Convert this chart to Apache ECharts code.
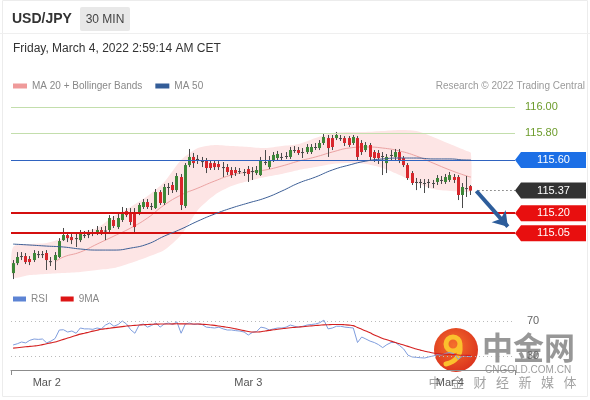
<!DOCTYPE html>
<html><head><meta charset="utf-8">
<script src="https://cdn.jsdelivr.net/npm/echarts@6/dist/echarts.min.js"></script>
<style>html,body{margin:0;padding:0;background:#fff}#c{width:590px;height:400px}</style>
</head><body><div id="c"></div>
<script>
// ---------- data ----------
const pairName = 'USD/JPY';
const timeframe = '30 MIN';
const stamp = 'Friday, March 4, 2022 2:59:14 AM CET';
const credit = 'Research \u00a9 2022 Trading Central';
const dayLabels = ['Mar 2', 'Mar 3', 'Mar 4'];
const dayIdx = [8, 56, 104];
const slotCount = 120;           // 110 candles + empty room on the right
// candles: [open, close, low, high]
const candles = [
[114.750,114.825,114.705,114.848],[114.825,114.871,114.810,114.908],[114.871,114.878,114.848,114.908],[114.878,114.833,114.818,114.901],[114.856,114.833,114.810,114.878],
[114.848,114.901,114.833,114.923],[114.893,114.886,114.863,114.916],[114.886,114.893,114.863,114.916],[114.901,114.848,114.773,114.923],[114.840,114.833,114.803,114.871],
[114.848,114.886,114.773,114.908],[114.871,114.991,114.863,115.013],[114.998,115.036,114.991,115.089],[115.036,115.013,114.983,115.059],[115.021,114.998,114.968,115.044],
[115.013,115.010,114.946,115.044],[114.998,115.051,114.983,115.074],[115.036,115.032,115.013,115.066],[115.036,115.044,115.013,115.074],[115.051,115.059,115.028,115.081],
[115.051,115.074,115.036,115.104],[115.074,115.059,115.036,115.096],[115.066,115.070,114.998,115.104],[115.074,115.164,115.059,115.186],[115.149,115.104,115.089,115.179],
[115.096,115.164,115.081,115.194],[115.149,115.209,115.134,115.247],[115.216,115.186,115.171,115.239],[115.201,115.134,115.111,115.239],[115.194,115.096,115.059,115.239],
[115.201,115.262,115.186,115.277],[115.247,115.284,115.232,115.307],[115.284,115.247,115.232,115.307],[115.247,115.254,115.224,115.277],[115.239,115.359,115.232,115.382],
[115.359,115.277,115.262,115.374],[115.277,115.397,115.262,115.420],[115.397,115.393,115.337,115.427],[115.412,115.374,115.352,115.435],[115.374,115.480,115.359,115.502],
[115.472,115.262,115.224,115.495],[115.254,115.562,115.239,115.577],[115.562,115.623,115.547,115.683],[115.623,115.577,115.540,115.653],[115.608,115.600,115.570,115.638],
[115.592,115.589,115.547,115.623],[115.600,115.540,115.502,115.615],[115.577,115.540,115.525,115.600],[115.577,115.547,115.525,115.600],[115.570,115.547,115.525,115.592],
[115.547,115.544,115.472,115.585],[115.547,115.510,115.487,115.570],[115.525,115.487,115.465,115.547],[115.525,115.502,115.480,115.547],[115.517,115.514,115.495,115.540],
[115.510,115.506,115.480,115.532],[115.532,115.495,115.435,115.555],[115.517,115.514,115.450,115.547],[115.502,115.525,115.487,115.555],[115.487,115.600,115.480,115.623],
[115.585,115.581,115.562,115.675],[115.547,115.600,115.532,115.630],[115.600,115.638,115.585,115.660],[115.615,115.645,115.600,115.668],[115.623,115.619,115.600,115.653],
[115.630,115.626,115.608,115.660],[115.623,115.675,115.608,115.698],[115.675,115.671,115.653,115.705],[115.675,115.653,115.638,115.698],[115.660,115.656,115.615,115.690],
[115.660,115.698,115.645,115.720],[115.660,115.698,115.645,115.720],[115.698,115.694,115.675,115.728],[115.690,115.728,115.675,115.750],[115.728,115.773,115.713,115.796],
[115.765,115.690,115.623,115.788],[115.765,115.698,115.675,115.788],[115.765,115.788,115.750,115.811],[115.765,115.761,115.743,115.788],[115.765,115.728,115.705,115.780],
[115.765,115.713,115.698,115.780],[115.728,115.773,115.713,115.788],[115.765,115.623,115.600,115.780],[115.728,115.660,115.638,115.750],[115.675,115.713,115.660,115.735],
[115.713,115.623,115.600,115.728],[115.660,115.615,115.585,115.675],[115.653,115.615,115.570,115.675],[115.630,115.626,115.487,115.660],[115.577,115.623,115.502,115.645],
[115.638,115.634,115.600,115.675],[115.623,115.660,115.600,115.683],[115.660,115.600,115.577,115.683],[115.615,115.562,115.547,115.630],[115.562,115.465,115.450,115.577],
[115.502,115.427,115.412,115.517],[115.435,115.431,115.374,115.465],[115.435,115.427,115.389,115.457],[115.427,115.423,115.352,115.457],[115.427,115.435,115.389,115.457],
[115.427,115.423,115.389,115.450],[115.435,115.465,115.412,115.487],[115.450,115.446,115.420,115.480],[115.435,115.472,115.420,115.495],[115.450,115.487,115.435,115.510],
[115.472,115.450,115.427,115.495],[115.472,115.337,115.299,115.487],[115.337,115.397,115.239,115.427],[115.389,115.386,115.322,115.480],[115.404,115.370,115.337,115.412]
];
// Bollinger / moving averages, read every 4 candles
const bandIdx   = [0,4,8,12,16,20,24,28,32,36,40,44,48,52,56,60,64,68,72,76,80,84,88,92,96,100,104,108,109];
const bandUpper = [114.946,114.968,114.976,115.013,115.059,115.089,115.179,115.247,115.329,115.435,115.600,115.690,115.713,115.705,115.698,115.690,115.705,115.720,115.765,115.803,115.811,115.811,115.818,115.826,115.818,115.773,115.720,115.668,115.653];
const bandLower = [114.720,114.735,114.743,114.750,114.758,114.773,114.788,114.826,114.871,114.923,115.036,115.224,115.337,115.404,115.442,115.472,115.495,115.525,115.547,115.570,115.577,115.570,115.540,115.487,115.427,115.382,115.367,115.359,115.359];
const ma20Idx   = [10,12,16,20,24,28,32,36,40,44,48,52,56,60,64,68,72,76,80,84,88,92,96,100,104,108,109];
const ma20Vals  = [114.833,114.871,114.908,114.968,115.028,115.089,115.164,115.262,115.337,115.389,115.442,115.487,115.510,115.525,115.555,115.592,115.623,115.660,115.690,115.698,115.690,115.668,115.630,115.577,115.525,115.480,115.472];
const ma50Vals  = [114.968,114.961,114.953,114.946,114.931,114.923,114.923,114.938,114.968,115.028,115.081,115.141,115.194,115.239,115.277,115.314,115.367,115.427,115.472,115.525,115.562,115.592,115.608,115.615,115.615,115.608,115.608,115.600,115.600];
// price levels
const resistLevels = [116.00, 115.80];
const pivotLevel = 115.60;
const lastPrice = 115.37;
const supportLevels = [115.20, 115.05];
const arrowFrom = [110.3, 115.367];
const arrowTo = [117.8, 115.099];
// RSI panel
const rsiVals = [42.6,44,46,45,48,49.4,49,49.4,45,47, 50,59.7,60,57.4,58.6,56,62,61,61,60.5, 62,61,65.4,67.7,64,66,70,66.6,60,56,
 65.4,66.6,63,65,67.7,63,66.6,67.7,66,69, 56,66.6,67.7,66,66.6,66,63,62.5,62,63, 61,59.7,59.7,59,58.5,57.4,54,57,58,63,
 62,59.7,61,62,62,63,65.4,64,63,64, 65.4,66,66.6,68,71,61,62,64,64,63, 62.5,62,45.4,51.7,49.4,47,45.4,43,39.6,43,
 45.4,45.4,42,38,31,28.9,28.5,28,27.7,29, 30,31.5,31,33,34,32.5,26,30,30,29];
const rsiMaVals = [39,39.5,40,40.5,41,41.4,42,43,44,45, 46,47.5,49,50.5,52,53.5,55,56,57.2,58.4, 59.5,60.5,61.2,61.8,62.4,63,63.6,64.2,64.6,65,
 65.4,65.7,66,66.2,66.4,66.5,66.6,66.6,66.7,66.8, 66.7,66.7,66.6,66.6,66.6,66.3,66,65.5,65,64.3, 63.6,62.8,62,61,60,59,58,57.4,57.4,57.8,
 58.6,59.3,60,60.6,61.2,61.8,62.3,62.7,63.1,63.5, 64,64.4,64.8,65.2,65.6,65.8,66,66,66,65.7, 65.3,64.7,62.5,60.5,58.5,56.5,54,52,50,48.5,
 47,45.4,44,42.5,41,39.5,38,36.7,35.5,34.5, 33.5,32.8,32.3,32,31.8,31.6,31.2,30.9,30.7,30.5];
const rsiLevels = [70, 30];

// ---------- chart ----------
const FONT = '"Liberation Sans", Arial, sans-serif';
const cats = Array.from({length: slotCount}, (_, i) => 'c' + i);
const pair = (idx, vals) => idx.map((x, k) => [x, vals[k]]);
const GREEN = '#3d8738', RED = '#d8262c', WICK = '#4a4a4a';

const tagPath = 'path://M0,8 L6,0 L71,0 L71,16 L6,16 Z';
function tag(v, color) {
  return {coord: [slotCount - 0.5, v], symbol: tagPath, symbolSize: [71, 16], symbolOffset: [35.5, 0],
    itemStyle: {color}, label: {show: true, position: 'inside', offset: [3, 0], formatter: v.toFixed(2), color: '#fff', fontSize: 11, fontFamily: FONT}};
}

const chart = echarts.init(document.getElementById('c'));
const option = {
  animation: false,
  textStyle: {fontFamily: FONT},
  legend: [
    {left: 13, top: 81, padding: 0, itemWidth: 14, itemHeight: 5, itemGap: 13, icon: 'rect',
     textStyle: {color: '#888', fontSize: 10}, data: ['MA 20 + Bollinger Bands', 'MA 50'], selectedMode: false},
    {left: 13, top: 294, padding: 0, itemWidth: 13, itemHeight: 5, itemGap: 13, icon: 'rect',
     textStyle: {color: '#888', fontSize: 10}, data: ['RSI', '9MA'], selectedMode: false}
  ],
  grid: [
    {left: 11, right: 75, top: 93.5, height: 188.9},
    {left: 11, right: 75, top: 312.25, height: 57.75}
  ],
  xAxis: [
    {type: 'category', gridIndex: 0, data: cats, show: false, boundaryGap: true},
    {type: 'value', gridIndex: 0, min: -0.5, max: slotCount - 0.5, show: false},
    {type: 'category', gridIndex: 1, data: cats, boundaryGap: true,
     axisLine: {lineStyle: {color: '#8c8c8c', width: 1}},
     axisTick: {show: true, length: 5, lineStyle: {color: '#8c8c8c'}, interval: (i) => i === 0},
     axisLabel: {interval: (i) => dayIdx.includes(i), formatter: (v, i) => dayLabels[dayIdx.indexOf(i)] || '',
       color: '#555', fontSize: 11, margin: 7},
     splitLine: {show: false}}
  ],
  yAxis: [
    {type: 'value', gridIndex: 0, min: 114.68, max: 116.10, show: false},
    {type: 'value', gridIndex: 1, min: 14, max: 80, show: false}
  ],
  series: [
    {type: 'custom', name: 'band', xAxisIndex: 1, yAxisIndex: 0, z: 1, silent: true,
     data: [[bandIdx[0], bandUpper[0]]],
     renderItem: (params, api) => {
       const pts = [];
       bandIdx.forEach((ix, k) => pts.push(api.coord([ix, bandUpper[k]])));
       for (let k = bandIdx.length - 1; k >= 0; k--) pts.push(api.coord([bandIdx[k], bandLower[k]]));
       return {type: 'polygon', shape: {points: pts, smooth: 0.25}, style: {fill: '#fde5e5'}};
     }},
    {type: 'line', name: 'MA 20 + Bollinger Bands', xAxisIndex: 1, yAxisIndex: 0, z: 2, smooth: true, showSymbol: false,
     color: '#ef9a9a', lineStyle: {width: 1, color: '#eba2a2'}, data: pair(ma20Idx, ma20Vals)},
    {type: 'custom', name: 'candles', xAxisIndex: 0, yAxisIndex: 0, z: 3,
     data: candles.map((c, i) => [i, c[0], c[1], c[2], c[3]]),
     encode: {x: 0, y: [1, 2, 3, 4]},
     renderItem: (params, api) => {
       const i = api.value(0), o = api.value(1), c = api.value(2), l = api.value(3), h = api.value(4);
       const pO = api.coord([i, o]), pC = api.coord([i, c]), pL = api.coord([i, l]), pH = api.coord([i, h]);
       const x = Math.round(pO[0] - 0.5) + 0.5;
       const top = Math.min(pO[1], pC[1]), bot = Math.max(pO[1], pC[1]);
       const hh = Math.max(bot - top, 1);
       const flat = bot - top < 1.2;
       return {type: 'group', children: [
         {type: 'line', shape: {x1: x, y1: pH[1], x2: x, y2: pL[1]}, style: {stroke: WICK, lineWidth: 1}},
         {type: 'rect', shape: {x: x - 1.5, y: top, width: 3, height: hh},
          style: {fill: flat ? WICK : (c >= o ? GREEN : RED)}}
       ]};
     }},
    {type: 'line', name: 'MA 50', xAxisIndex: 1, yAxisIndex: 0, z: 5, smooth: true, showSymbol: false,
     color: '#345d98', lineStyle: {width: 1, color: '#3d5f96'}, data: pair(bandIdx, ma50Vals),
     markLine: {silent: true, symbol: ['none', 'none'], precision: 2,
       data: [
         ...resistLevels.map(v => ({yAxis: v, lineStyle: {color: '#c3deac', width: 1, type: 'solid'},
            label: {show: true, position: 'end', distance: 10, formatter: v.toFixed(2), color: '#6d9c2c', fontSize: 11}})),
         {yAxis: pivotLevel, lineStyle: {color: '#2f63c0', width: 1, type: 'solid'}, label: {show: false}},
         ...supportLevels.map(v => ({yAxis: v, lineStyle: {color: '#d40f0f', width: 2, type: 'solid'}, label: {show: false}})),
         [{coord: [arrowFrom[0] + 0.5, lastPrice], symbol: 'none', lineStyle: {color: '#333', width: 1, type: [1, 3]}, label: {show: false}},
          {coord: [slotCount - 0.5, lastPrice], symbol: 'none'}],
         [{coord: arrowFrom, symbol: 'none', lineStyle: {color: '#2d5d9b', width: 4, type: 'solid'}, label: {show: false}},
          {coord: arrowTo, symbol: 'arrow', symbolSize: [14, 14]}]
       ]},
     markPoint: {silent: true, data: [
       tag(pivotLevel, '#1c6fe6'), tag(lastPrice, '#333333'),
       ...supportLevels.map(v => tag(v, '#e80f0f'))
     ]}},
    {type: 'line', name: 'RSI', xAxisIndex: 2, yAxisIndex: 1, showSymbol: false, color: '#5d84d4',
     lineStyle: {width: 1, color: '#7f9ddd'}, data: rsiVals,
     markLine: {silent: true, symbol: ['none', 'none'],
       lineStyle: {color: '#bbb', type: [1, 3], width: 1},
       label: {show: true, position: 'end', distance: 12, color: '#666', fontSize: 11},
       data: rsiLevels.map(v => ({yAxis: v}))}},
    {type: 'line', name: '9MA', xAxisIndex: 2, yAxisIndex: 1, showSymbol: false, smooth: true, color: '#dd1515',
     lineStyle: {width: 1.1, color: '#d42020'}, data: rsiMaVals}
  ],
  graphic: [
    {type: 'rect', shape: {x: 2.5, y: 0.5, width: 585, height: 396}, style: {fill: 'none', stroke: '#ececec'}, z: -1},
    {type: 'line', shape: {x1: 0, y1: 33.5, x2: 590, y2: 33.5}, style: {stroke: '#efefef'}},
    {type: 'text', x: 12, y: 19, style: {text: pairName, font: 'bold 14px ' + FONT, fill: '#333', verticalAlign: 'middle'}},
    {type: 'rect', shape: {x: 80, y: 7, width: 50, height: 24, r: 2}, style: {fill: '#e8e8e8'}},
    {type: 'text', x: 105, y: 19.5, style: {text: timeframe, font: '12px ' + FONT, fill: '#444', align: 'center', verticalAlign: 'middle'}},
    {type: 'text', x: 13, y: 49, style: {text: stamp, font: '12px ' + FONT, fill: '#333', verticalAlign: 'middle'}},
    {type: 'text', x: 585, y: 86, style: {text: credit, font: '10px ' + FONT, fill: '#9a9a9a', align: 'right', verticalAlign: 'middle'}},
    // watermark
    {type: 'group', z: 100, children: [
      {type: 'circle', shape: {cx: 456, cy: 350, r: 22},
       style: {fill: new echarts.graphic.RadialGradient(0.45, 0.4, 0.75, [{offset: 0, color: '#f5702c'}, {offset: 1, color: '#d5261b'}])}},
      {type: 'circle', shape: {cx: 453, cy: 344, r: 7}, style: {fill: 'none', stroke: '#fbc02d', lineWidth: 5}},
      {type: 'bezierCurve', shape: {x1: 460, y1: 346, cpx1: 461, cpy1: 356, cpx2: 455, cpy2: 362, x2: 446, y2: 364},
       style: {fill: 'none', stroke: '#fbc02d', lineWidth: 5, lineCap: 'round'}},
      {type: 'text', x: 482, y: 347, style: {text: '中金网', font: 'bold 31px "Noto Sans CJK SC"', fill: 'rgba(125,125,125,0.8)', verticalAlign: 'middle'}},
      {type: 'text', x: 485, y: 370, style: {text: 'CNGOLD.COM.CN', font: '10px ' + FONT, fill: 'rgba(140,140,140,0.85)', verticalAlign: 'middle'}},
      ...'中金财经新媒体'.split('').map((ch, k) => ({type: 'text', x: 435 + 22.5 * k, y: 382,
        style: {text: ch, font: '13px "Noto Sans CJK SC"', fill: 'rgba(140,140,140,0.8)', align: 'center', verticalAlign: 'middle'}}))
    ]}
  ]
};
chart.setOption(option);
</script>
</body></html>
